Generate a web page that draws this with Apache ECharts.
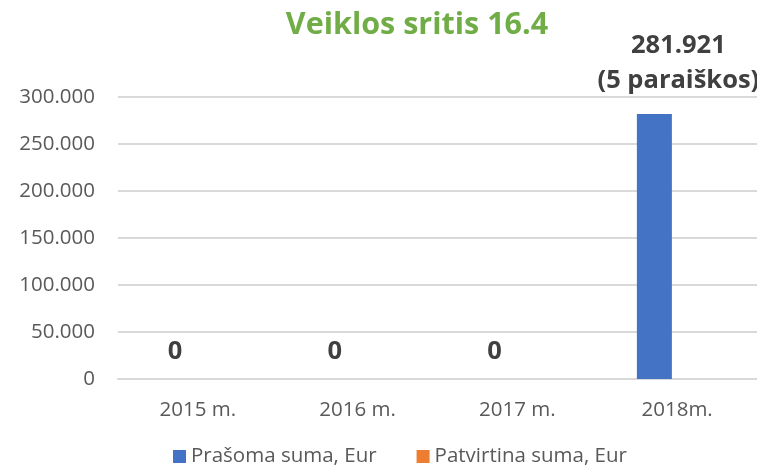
<!DOCTYPE html>
<html>
<head>
<meta charset="utf-8">
<script src="https://cdn.jsdelivr.net/npm/echarts@6/dist/echarts.min.js"></script>
<style>
  html, body { margin: 0; padding: 0; background: #fff; }
  #chart { width: 757px; height: 473px; }
</style>
</head>
<body>
<div id="chart"></div>
<script>
const years = ['2015 m.', '2016 m.', '2017 m.', '2018m.'];
const requested = [0, 0, 0, 281921];
const approved = [0, 0, 0, 0];
const requestedLabels = ['0', '0', '0', '281.921\n(5 paraiškos)'];

const FONT = '"Open Sans", sans-serif';
const fmt = v => String(v).replace(/\B(?=(\d{3})+(?!\d))/g, '.');

const chart = echarts.init(document.getElementById('chart'));

chart.setOption({
    animation: false,
    title: {
        text: 'Veiklos sritis 16.4',
        left: 412,
        top: 5,
        textAlign: 'center',
        textStyle: { color: '#70AD47', fontSize: 30.5, fontWeight: 'bold', fontFamily: FONT }
    },
    grid: { left: 118, right: 0, top: 97, bottom: 94 },
    legend: {
        bottom: 1,
        left: 168,
        itemWidth: 13,
        itemHeight: 13,
        itemGap: 40,
        icon: 'rect',
        textStyle: { color: '#595959', fontSize: 20.5, fontFamily: FONT }
    },
    xAxis: {
        type: 'category',
        data: years,
        axisLine: { lineStyle: { color: '#D9D9D9', width: 2 } },
        axisTick: { show: false },
        axisLabel: { color: '#595959', fontSize: 20.5, fontFamily: FONT, margin: 21 }
    },
    yAxis: {
        type: 'value',
        min: 0,
        max: 300000,
        interval: 50000,
        axisLine: { show: false },
        axisTick: { show: false },
        splitLine: { lineStyle: { color: '#D9D9D9', width: 2 } },
        axisLabel: { color: '#595959', fontSize: 20.5, fontFamily: FONT, margin: 23, formatter: fmt }
    },
    series: [
        {
            name: 'Prašoma suma, Eur',
            type: 'bar',
            barWidth: 35,
            barGap: '30%',
            itemStyle: { color: '#4472C4' },
            data: requested.map((v, i) => ({
                value: v,
                label: {
                    show: true,
                    position: 'top',
                    formatter: requestedLabels[i],
                    distance: i === 3 ? 16 : 10,
                    offset: i === 3 ? [24, 0] : [0, 0],
                    lineHeight: 35,
                    color: '#404040',
                    fontSize: 25.5,
                    fontWeight: 'bold',
                    fontFamily: FONT
                }
            }))
        },
        {
            name: 'Patvirtina suma, Eur',
            type: 'bar',
            barWidth: 35,
            itemStyle: { color: '#ED7D31' },
            data: approved
        }
    ]
});
</script>
</body>
</html>
